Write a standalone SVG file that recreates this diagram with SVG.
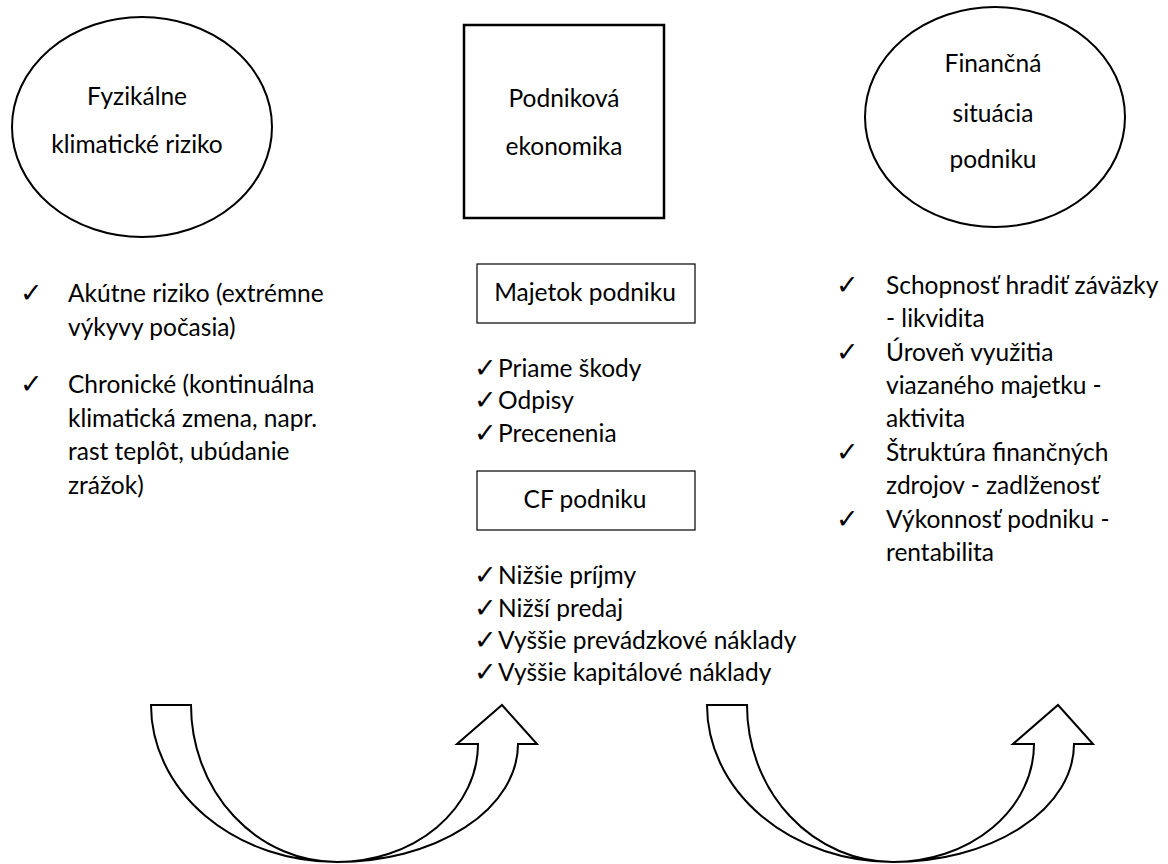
<svg xmlns="http://www.w3.org/2000/svg" width="1168" height="864" viewBox="0 0 1168 864">
<style>
  text { font-family: Lato, "Liberation Sans", sans-serif; font-size: 24.5px; fill: #000; }
  .c { text-anchor: middle; }
  .chk { font-family: "DejaVu Sans", sans-serif; font-size: 27px; }
  .shape { fill: #fff; stroke: #000; stroke-width: 2; }
  .box { fill: #fff; stroke: #000; stroke-width: 1.2; }
  .arrow { fill: #fff; stroke: #000; stroke-width: 2; stroke-linejoin: miter; }
</style>
<defs>
  <path id="uarrow" d="M151,705 A186,157 0 0 0 337,862 A181,118 0 0 0 518,744 L537,744 L502,705 L457,744 L478,744 A141,118 0 0 1 337,862 A146,157 0 0 1 191,705 Z"/>
</defs>
<rect width="1168" height="864" fill="#fff"/>

<g id="node-fyzikalne">
  <ellipse class="shape" cx="142" cy="127" rx="130" ry="110"/>
  <text class="c" x="137" y="105">Fyzikálne</text>
  <text class="c" x="137" y="153">klimatické riziko</text>
</g>

<g id="node-podnikova">
  <rect class="shape" x="464" y="25" width="200" height="193" style="stroke-width:2.5"/>
  <text class="c" x="564" y="107">Podniková</text>
  <text class="c" x="564" y="155">ekonomika</text>
</g>

<g id="node-financna">
  <ellipse class="shape" cx="995" cy="117" rx="130" ry="110"/>
  <text class="c" x="993" y="72">Finančná</text>
  <text class="c" x="993" y="122">situácia</text>
  <text class="c" x="993" y="168">podniku</text>
</g>

<g id="list-left">
  <text class="chk" x="20" y="302">✓</text>
  <text x="68" y="302">Akútne riziko (extrémne</text>
  <text x="68" y="336">výkyvy počasia)</text>
  <text class="chk" x="20" y="393">✓</text>
  <text x="68" y="393">Chronické (kontinuálna</text>
  <text x="68" y="427">klimatická zmena, napr.</text>
  <text x="68" y="460">rast teplôt, ubúdanie</text>
  <text x="68" y="494">zrážok)</text>
</g>

<g id="node-majetok">
  <rect class="box" x="477" y="264" width="218" height="59"/>
  <text class="c" x="585" y="301">Majetok podniku</text>
</g>

<g id="list-majetok">
  <text class="chk" x="474" y="377">✓</text>
  <text x="498" y="377">Priame škody</text>
  <text class="chk" x="474" y="409">✓</text>
  <text x="498" y="409">Odpisy</text>
  <text class="chk" x="474" y="442">✓</text>
  <text x="498" y="442">Precenenia</text>
</g>

<g id="node-cf">
  <rect class="box" x="477" y="471" width="218" height="59"/>
  <text class="c" x="585" y="508">CF podniku</text>
</g>

<g id="list-cf">
  <text class="chk" x="474" y="584">✓</text>
  <text x="498" y="584">Nižšie príjmy</text>
  <text class="chk" x="474" y="617">✓</text>
  <text x="498" y="617">Nižší predaj</text>
  <text class="chk" x="474" y="649">✓</text>
  <text x="498" y="649">Vyššie prevádzkové náklady</text>
  <text class="chk" x="474" y="681">✓</text>
  <text x="498" y="681">Vyššie kapitálové náklady</text>
</g>

<g id="list-right">
  <text class="chk" x="836" y="294">✓</text>
  <text x="886" y="294">Schopnosť hradiť záväzky</text>
  <text x="886" y="327">- likvidita</text>
  <text class="chk" x="836" y="361">✓</text>
  <text x="886" y="361">Úroveň využitia</text>
  <text x="886" y="394">viazaného majetku -</text>
  <text x="886" y="427">aktivita</text>
  <text class="chk" x="836" y="461">✓</text>
  <text x="886" y="461">Štruktúra finančných</text>
  <text x="886" y="494">zdrojov  - zadlženosť</text>
  <text class="chk" x="836" y="528">✓</text>
  <text x="886" y="528">Výkonnosť podniku -</text>
  <text x="886" y="561">rentabilita</text>
</g>

<g id="connectors">
  <use href="#uarrow" class="arrow"/>
  <use href="#uarrow" class="arrow" transform="translate(556,0)"/>
</g>
</svg>
